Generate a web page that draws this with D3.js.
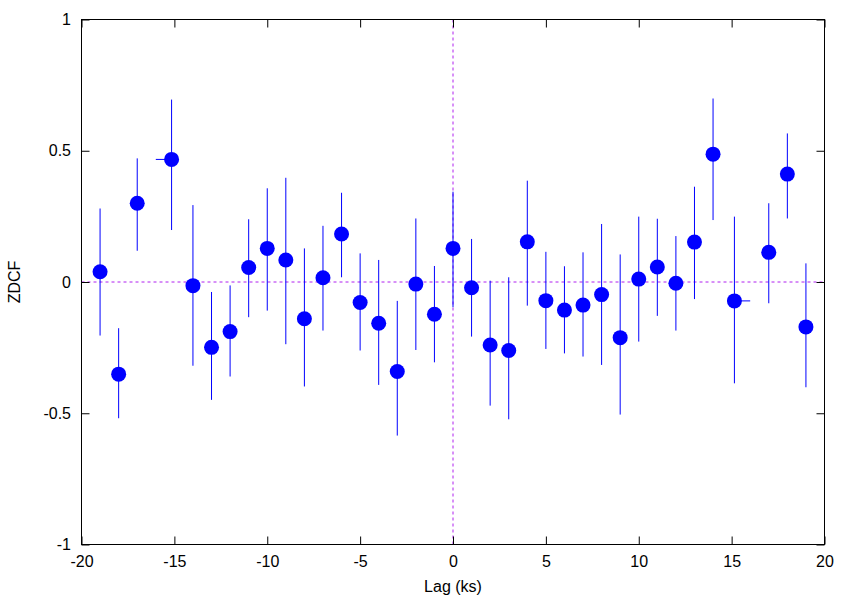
<!DOCTYPE html>
<html>
<head>
<meta charset="utf-8">
<script src="https://cdn.jsdelivr.net/npm/d3@7"></script>
<style>
  body { margin: 0; background: #fff; }
  svg { display: block; font-family: "Liberation Sans", Arial, sans-serif; }
</style>
</head>
<body>
<svg id="drawing_region"></svg>
<script>
// lag values (ks) and ZDCF
const lag    = [-19, -18, -17, -15.15, -14, -13, -12, -11, -10, -9, -8, -7, -6, -5, -4, -3, -2, -1, 0,
                 1, 2, 3, 4, 5, 6, 7, 8, 9, 10, 11, 12, 13, 14, 15.15, 17, 18, 19];
const lagLo  = [-19, -18, -17, -16, -14, -13, -12, -11, -10, -9, -8, -7, -6, -5, -4, -3, -2, -1, 0,
                 1, 2, 3, 4, 5, 6, 7, 8, 9, 10, 11, 12, 13, 14, 15.15, 17, 18, 19];
const lagHi  = [-19, -18, -17, -15.15, -14, -13, -12, -11, -10, -9, -8, -7, -6, -5, -4, -3, -2, -1, 0,
                 1, 2, 3, 4, 5, 6, 7, 8, 9, 10, 11, 12, 13, 14, 16, 17, 18, 19];
const zdcf   = [0.039, -0.351, 0.30, 0.467, -0.014, -0.249, -0.189, 0.055, 0.128, 0.084, -0.14, 0.016, 0.183,
                -0.078, -0.157, -0.341, -0.008, -0.123, 0.128, -0.022, -0.24, -0.261, 0.153, -0.071, -0.107,
                -0.088, -0.048, -0.212, 0.011, 0.057, -0.005, 0.152, 0.487, -0.072, 0.113, 0.411, -0.171];
const zdcfHi = [0.28, -0.176, 0.471, 0.695, 0.293, -0.038, -0.013, 0.239, 0.357, 0.397, 0.128, 0.214, 0.34,
                0.109, 0.084, -0.072, 0.242, 0.061, 0.344, 0.164, 0.005, 0.018, 0.386, 0.115, 0.06,
                0.113, 0.221, 0.105, 0.249, 0.241, 0.175, 0.363, 0.699, 0.249, 0.30, 0.566, 0.071];
const zdcfLo = [-0.204, -0.519, 0.119, 0.198, -0.319, -0.449, -0.36, -0.134, -0.109, -0.237, -0.398, -0.185, 0.018,
                -0.261, -0.392, -0.585, -0.259, -0.306, -0.096, -0.208, -0.471, -0.523, -0.09, -0.255, -0.272,
                -0.284, -0.316, -0.505, -0.227, -0.129, -0.185, -0.065, 0.236, -0.386, -0.081, 0.242, -0.401];

const xTicks = [-20, -15, -10, -5, 0, 5, 10, 15, 20];
const yTicks = [-1, -0.5, 0, 0.5, 1];

const data = lag.map((d, i) => ({
    lag: d, lo: lagLo[i], hi: lagHi[i],
    v: zdcf[i], vlo: zdcfLo[i], vhi: zdcfHi[i]
}));

const width = 854, height = 598;
const margin = {top: 19.5, right: 29.5, bottom: 53.5, left: 81.5};

const svg = d3.select('#drawing_region')
    .attr('width', width)
    .attr('height', height);

const xscale = d3.scaleLinear()
    .domain([-20, 20])
    .range([margin.left, width - margin.right]);

const yscale = d3.scaleLinear()
    .domain([-1, 1])
    .range([height - margin.bottom, margin.top]);

const fmt = d => String(d);

// zero axes (dashed)
const zeroColor = '#b020f0';
svg.append('line')
    .attr('x1', xscale(-20)).attr('x2', xscale(20))
    .attr('y1', yscale(0)).attr('y2', yscale(0))
    .attr('stroke', zeroColor).attr('stroke-dasharray', '3,3');
svg.append('line')
    .attr('x1', xscale(0)).attr('x2', xscale(0))
    .attr('y1', yscale(-1)).attr('y2', yscale(1))
    .attr('stroke', zeroColor).attr('stroke-dasharray', '3,3');

// axes: ticks inward, mirrored
const xaxis = svg.append('g')
    .attr('transform', `translate(0, ${yscale(-1)})`)
    .call(d3.axisBottom(xscale).tickValues(xTicks).tickFormat(fmt)
        .tickSizeInner(-8).tickSizeOuter(0).tickPadding(11));
const xaxisTop = svg.append('g')
    .attr('transform', `translate(0, ${yscale(1)})`)
    .call(d3.axisTop(xscale).tickValues(xTicks).tickFormat('')
        .tickSizeInner(-8).tickSizeOuter(0));
const yaxis = svg.append('g')
    .attr('transform', `translate(${xscale(-20)}, 0)`)
    .call(d3.axisLeft(yscale).tickValues(yTicks).tickFormat(fmt)
        .tickSizeInner(-8).tickSizeOuter(0).tickPadding(10.5));
const yaxisRight = svg.append('g')
    .attr('transform', `translate(${xscale(20)}, 0)`)
    .call(d3.axisRight(yscale).tickValues(yTicks).tickFormat('')
        .tickSizeInner(-8).tickSizeOuter(0));

[xaxis, xaxisTop, yaxis, yaxisRight].forEach(g => {
    g.select('.domain').remove();
    g.selectAll('line').attr('stroke', '#000');
    g.selectAll('text')
        .attr('fill', '#000')
        .style('font-family', '"Liberation Sans", Arial, sans-serif')
        .style('font-size', '16px');
});

// frame
svg.append('rect')
    .attr('x', xscale(-20)).attr('y', yscale(1))
    .attr('width', xscale(20) - xscale(-20))
    .attr('height', yscale(-1) - yscale(1))
    .attr('fill', 'none').attr('stroke', '#000').attr('stroke-width', 1);

// error bars
const chart = svg.append('g');
chart.selectAll('line.ey')
    .data(data)
    .enter()
    .append('line')
    .attr('class', 'ey')
    .attr('x1', d => xscale(d.lag)).attr('x2', d => xscale(d.lag))
    .attr('y1', d => yscale(d.vlo)).attr('y2', d => yscale(d.vhi))
    .attr('stroke', '#0000ff').attr('stroke-width', 1);
chart.selectAll('line.ex')
    .data(data.filter(d => d.lo !== d.hi))
    .enter()
    .append('line')
    .attr('class', 'ex')
    .attr('x1', d => xscale(d.lo)).attr('x2', d => xscale(d.hi))
    .attr('y1', d => yscale(d.v)).attr('y2', d => yscale(d.v))
    .attr('stroke', '#0000ff').attr('stroke-width', 1);

// points
chart.selectAll('circle')
    .data(data)
    .enter()
    .append('circle')
    .attr('cx', d => xscale(d.lag))
    .attr('cy', d => yscale(d.v))
    .attr('r', 7.5)
    .attr('fill', '#0000ff');

// axis labels
svg.append('text')
    .attr('x', xscale(0))
    .attr('y', 592)
    .attr('text-anchor', 'middle')
    .attr('font-size', '16px')
    .text('Lag (ks)');

svg.append('text')
    .attr('transform', `translate(20, ${yscale(0)}) rotate(-90)`)
    .attr('text-anchor', 'middle')
    .attr('font-size', '16px')
    .text('ZDCF');
</script>
</body>
</html>
